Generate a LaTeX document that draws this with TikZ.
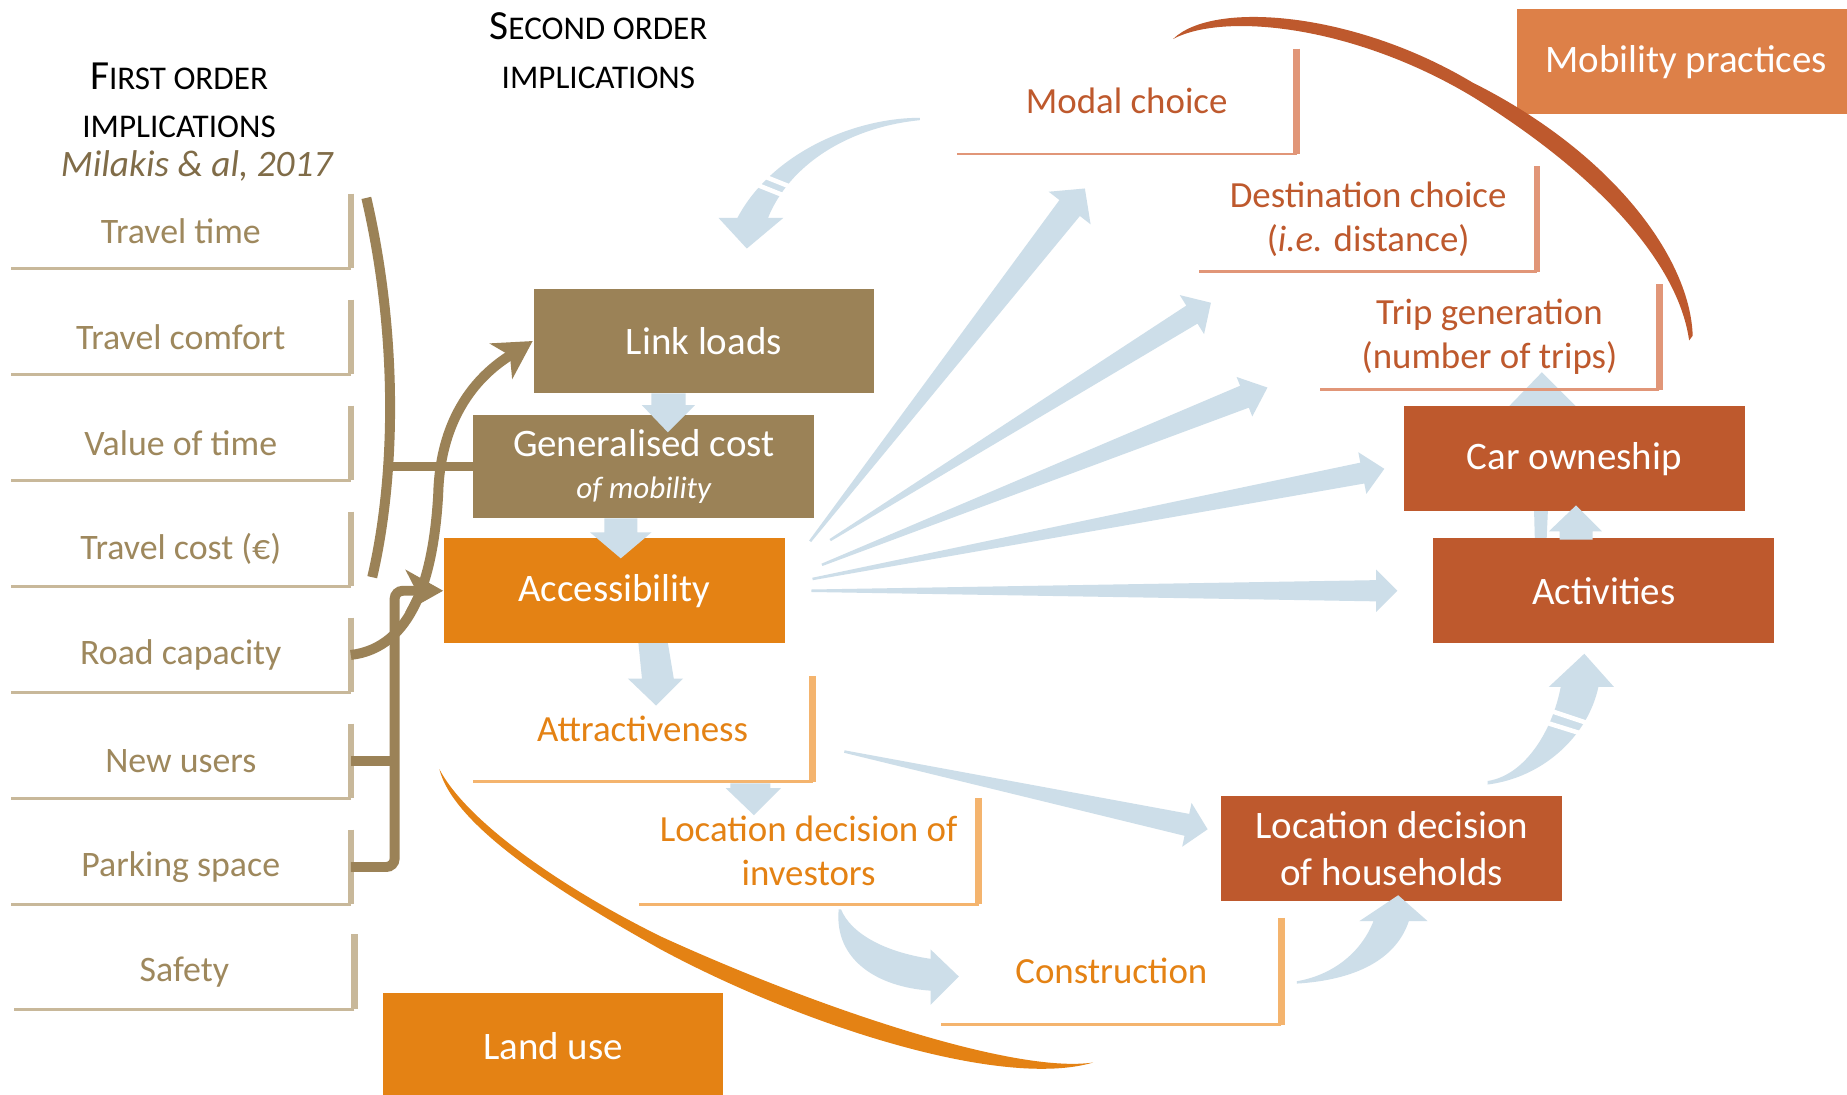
\documentclass[tikz,border=0pt]{standalone}
\usepackage{fontspec}
\setmainfont{Carlito}
\usetikzlibrary{calc,positioning,arrows.meta}

\definecolor{olive}{RGB}{155,130,87}
\definecolor{olivetext}{RGB}{158,136,93}
\definecolor{olivedark}{RGB}{128,108,72}
\definecolor{tanline}{RGB}{200,184,154}
\definecolor{accorange}{RGB}{228,130,20}
\definecolor{orangeline}{RGB}{244,180,110}
\definecolor{rust}{RGB}{190,89,45}
\definecolor{rustline}{RGB}{225,150,120}
\definecolor{mobcolor}{RGB}{221,128,72}
\definecolor{flowblue}{RGB}{205,222,233}

\newcommand{\scap}[2]{{\fontsize{10}{12}\selectfont #1}{\fontsize{8}{10}\selectfont #2}}

% tapered block arrow: [origin half width]{from}{to}{shaft half}{head half}{head length}
\newcommand{\blockarrow}[6][0.3pt]{%
  \coordinate (ba-base) at ($(#3)!#6!(#2)$);
  \fill[flow] ($(#2)!#1!90:(#3)$) -- ($(ba-base)!#4!90:(#3)$) -- ($(ba-base)!#5!90:(#3)$) -- (#3)
    -- ($(ba-base)!#5!-90:(#3)$) -- ($(ba-base)!#4!-90:(#3)$) -- ($(#2)!#1!-90:(#3)$) -- cycle;}

\tikzset{
  factor/.style={minimum width=2.87cm, minimum height=0.62cm, inner sep=0pt,
    text=olivetext, font=\fontsize{8.65}{10.4}\selectfont},
  implication/.style={minimum width=2.89cm, minimum height=0.89cm, inner sep=0pt,
    text=white, align=center, font=\fontsize{9.4}{11.2}\selectfont},
  effect/.style={minimum width=2.87cm, minimum height=0.88cm, inner sep=0pt,
    align=center, font=\fontsize{8.9}{10.7}\selectfont},
  boxside/.style={draw=#1, line width=1.55pt},
  boxbase/.style={draw=#1, line width=0.7pt},
  link/.style={draw=olive, line width=2.4pt, >={Stealth[length=9pt,width=10pt,inset=2.5pt]}},
  flow/.style={fill=flowblue, draw=none},
  stripe/.style={draw=white, line width=1.1pt}
}

\begin{document}
\begin{tikzpicture}[x=0.01cm,y=-0.01cm]
\useasboundingbox (0,0) rectangle (1568,929);
\fill[white] (0,0) rectangle (1568,929);

% headings
\node (first1) at (152,65) {\scap{F}{IRST ORDER}};
\node (first2) at (152,108) {\scap{}{IMPLICATIONS}};
\node[text=olivedark, font=\fontsize{9}{11}\selectfont\itshape] (source) at (167,141) {Milakis \& al, 2017};
\node (second1) at (508,22) {\scap{S}{ECOND ORDER}};
\node (second2) at (508,66) {\scap{}{IMPLICATIONS}};

% first order implications
\foreach \name/\txt [count=\i from 0] in {ttime/Travel time, tcomfort/Travel comfort,
  vtime/Value of time, tcost/Travel cost (€), rcap/Road capacity, nusers/New users,
  parking/Parking space}
{
  \node[factor] (\name) at (153.5,{196+90*\i}) {\txt};
  \draw[boxside=tanline] (\name.north east) -- (\name.south east);
  \draw[boxbase=tanline] (\name.south east) -- (\name.south west);
}
\node[factor] (safety) at (156.5,825) {Safety};
\draw[boxside=tanline] (safety.north east) -- (safety.south east);
\draw[boxbase=tanline] (safety.south east) -- (safety.south west);

% arrow hidden behind car ownership
\fill[flow] (1303,458) -- (1300,345) -- (1281,345) -- (1309,316) -- (1338,345) -- (1318,345) -- (1313,458) -- cycle;

% second order implications
\node[implication, fill=olive] (link) at (597.5,289.5) {Link loads};
\node[implication, fill=olive, minimum height=0.88cm] (gencost) at (546.5,396)
  {Generalised cost\\[-1pt]{\fontsize{7.5}{9}\selectfont\itshape of mobility}};
\node[implication, fill=accorange] (access) at (521.5,501.5) {Accessibility};
\node[implication, fill=accorange, minimum height=0.9cm] (landuse) at (469.5,888) {Land use};
\node[implication, fill=mobcolor, minimum width=2.87cm] (mobility) at (1431.5,52.5) {Mobility practices};
\node[implication, fill=rust] (car) at (1336.5,389.5) {Car owneship};
\node[implication, fill=rust] (activities) at (1361.5,501.5) {Activities};
\node[implication, fill=rust] (households) at (1181.5,720.5) {Location decision\\of households};

\node[effect, text=rust] (modal) at (956.5,86) {Modal choice};
\node[effect, text=rust, minimum width=2.85cm] (dest) at (1161.5,186) {Destination choice\\(\textit{i.e.} distance)};
\node[effect, text=rust] (trip) at (1264.5,286) {Trip generation\\(number of trips)};
\foreach \n in {modal,dest,trip}
{
  \draw[boxside=rustline] (\n.north east) -- (\n.south east);
  \draw[boxbase=rustline] (\n.south east) -- (\n.south west);
}
\node[effect, text=accorange] (attract) at (545.5,619) {Attractiveness};
\node[effect, text=accorange, minimum height=0.89cm] (investors) at (686.5,722.5) {Location decision of\\investors};
\node[effect, text=accorange, minimum height=0.89cm] (construction) at (943.5,824.5) {Construction};
\foreach \n in {attract,investors,construction}
{
  \draw[boxside=orangeline] (\n.north east) -- (\n.south east);
  \draw[boxbase=orangeline] (\n.south east) -- (\n.south west);
}

% first order links
\draw[link] (311,168) .. controls (337,280) and (337,400) .. (316,490);
\coordinate (join) at (331,396);
\draw[link] (join) -- (gencost.west);
\draw[link,->] (rcap.east) .. controls (350,550) and (368,490) .. (372,420)
  .. controls (374,340) and (420,310) .. (link.west);
\coordinate (stem) at (335,501.5);
\draw[link] (nusers.east) -- (nusers.east -| stem);
\draw[link,->,rounded corners=2pt] (parking.east) -| (stem) -- (access.west);

% flows
\fill[flow] (553,334) -- (553,344) -- (545,344) -- (567,367) -- (590,344) -- (582,344) -- (582,334) -- cycle;
\fill[flow] (513,440) -- (513,452) -- (501,452) -- (527,474) -- (553,452) -- (541,452) -- (541,440) -- cycle;
\fill[flow] (542,546) -- (545,576) -- (533,576) -- (557,599) -- (580,576) -- (572,576) -- (567,546) -- cycle;
\fill[flow] (620,665) -- (620,669) -- (616,669) -- (640,692) -- (663,669) -- (654,669) -- (654,665) -- cycle;
\fill[flow] (1324,458) -- (1324,451) -- (1315,451) -- (1338,429) -- (1360,451) -- (1352,451) -- (1352,458) -- cycle;

\coordinate (fa) at ([shift={(21,-42)}]access.east);
\coordinate (fb) at ([shift={(38,-43)}]access.east);
\coordinate (fc) at ([shift={(31,-22)}]access.east);
\coordinate (fd) at ([shift={(23,-10)}]access.east);
\coordinate (fe) at ([shift={(22,0)}]access.east);
\coordinate (ta) at (921,160);
\coordinate (tb) at (1028,257);
\coordinate (tc) at (1076,329);
\coordinate (td) at ([shift={(-16,8.5)}]car.west);
\coordinate (te) at ([shift={(-30,0)}]activities.west);
\coordinate (fh) at ([shift={(27,19)}]attract.east);
\coordinate (th) at ([shift={(-11,-16.5)}]households.west);
\blockarrow{fa}{ta}{0.11cm}{0.225cm}{0.21cm}
\blockarrow{fb}{tb}{0.09cm}{0.195cm}{0.19cm}
\blockarrow{fc}{tc}{0.10cm}{0.18cm}{0.21cm}
\blockarrow{fd}{td}{0.09cm}{0.18cm}{0.19cm}
\blockarrow{fe}{te}{0.09cm}{0.18cm}{0.18cm}
\blockarrow{fh}{th}{0.095cm}{0.19cm}{0.18cm}

% curved flows
\fill[flow] (781,100) .. controls (725,100) and (655,130) .. (626,185) -- (610,185) -- (634,211)
  -- (665,185) -- (652,185) .. controls (670,140) and (720,108) .. (781,102) -- cycle;
\draw[stripe] (637,145) -- (677,161);
\draw[stripe] (633,153) -- (673,169);
\fill[flow] (712,772) .. controls (708,815) and (745,838) .. (790,841) -- (790,853) -- (814,829)
  -- (790,806) -- (790,814) .. controls (750,808) and (722,792) .. (714,772) -- cycle;
\fill[flow] (1101,835) .. controls (1150,832) and (1185,815) .. (1196,782) -- (1212,782) -- (1187,760)
  -- (1154,782) -- (1166,782) .. controls (1155,810) and (1130,828) .. (1101,833) -- cycle;
\fill[flow] (1263,666) .. controls (1310,660) and (1348,625) .. (1357,583) -- (1370,583) -- (1345,555)
  -- (1315,583) -- (1325,583) .. controls (1318,620) and (1295,658) .. (1263,663) -- cycle;
\draw[stripe] (1312,602) -- (1360,618);
\draw[stripe] (1308,612) -- (1356,627);

% crescents
\fill[rust] (996,33) .. controls (1030,0) and (1150,10) .. (1250,70) .. controls (1370,130) and (1435,220) .. (1437,285)
  -- (1434,289) .. controls (1425,225) and (1360,150) .. (1250,82) .. controls (1150,22) and (1040,10) .. (996,33) -- cycle;
\fill[accorange] (373,653) .. controls (385,700) and (470,755) .. (561,806) .. controls (680,870) and (850,925) .. (928,902)
  .. controls (860,912) and (690,854) .. (561,795) .. controls (470,750) and (395,695) .. (373,653) -- cycle;
\end{tikzpicture}
\end{document}
